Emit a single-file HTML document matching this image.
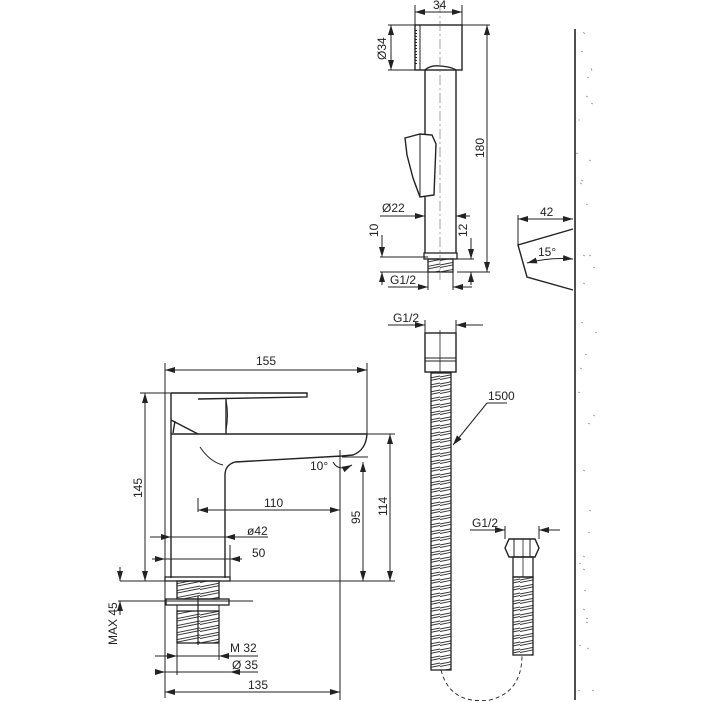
<!DOCTYPE html>
<html><head><meta charset="utf-8"><style>
html,body{margin:0;padding:0;background:#fff}
svg{display:block}
text{font-family:"Liberation Sans",sans-serif;font-size:12px;fill:#222}
</style></head><body>
<svg width="703" height="702" viewBox="0 0 703 702" xmlns="http://www.w3.org/2000/svg">
<defs>
<marker id="a" viewBox="0 0 10 6" refX="10" refY="3" markerWidth="10" markerHeight="6" orient="auto-start-reverse" markerUnits="userSpaceOnUse"><path d="M0,0 L10,3 L0,6 z" fill="#222"/></marker>
<pattern id="sp" patternUnits="userSpaceOnUse" width="40" height="7"><path d="M0,6 L40,-2 M0,8.5 L40,0.5 M0,13 L40,5 M0,15.5 L40,7.5 M0,-1 L40,-9 M0,1.5 L40,-6.5" stroke="#333" stroke-width="0.9"/></pattern>
</defs>
<g stroke="#222" stroke-width="1" fill="none">
<line x1="575" y1="29" x2="575" y2="700" stroke-width="1.6"/>
<g stroke="#999" stroke-width="0.8">
<path d="M583,32l2,2M581,51l2,1M591,68l1,3M587,77l2,1M586,96l2,1M591,103l2,1M578,120l2,0M576,153l2,1M589,160l2,1M581,180l2,1M580,183l2,1M586,204l2,1M583,255l2,1M589,255l2,1M593,267l2,1M583,283l2,1M581,322l2,1M595,332l2,1M585,354l2,1M580,368l2,1M578,392l2,1M593,415l2,1M588,423l2,1M583,470l2,1M589,510l2,1M588,532l2,1M583,556l2,1M579,563l2,1M583,569l2,1M584,590l2,1M583,609l2,1M586,618l2,1M586,622l2,1M579,645l2,1M587,648l2,1M592,690l2,1M578,690l2,1"/>
</g>
<rect x="415" y="25" width="47" height="45" stroke-width="1.4"/>
<line x1="420" y1="25" x2="420" y2="70"/>
<path d="M416,30 v35" stroke-dasharray="1 2" stroke-width="2"/>
<path d="M425,70 Q430,65 440,66 Q452,67 456,70" stroke-width="1.3"/>
<line x1="425" y1="70" x2="425" y2="253" stroke-width="1.4"/>
<line x1="456" y1="70" x2="456" y2="253" stroke-width="1.4"/>
<path d="M405,138 L420,134 L432,135 L436,144 L434,195 L420,197 L413,178 L407,155 Z" fill="#fff" stroke-width="1.4"/>
<line x1="420" y1="134" x2="420" y2="197"/>
<rect x="424" y="253" width="33" height="6" stroke-width="1.3"/>
<rect x="428" y="259" width="25" height="13" fill="url(#sp)" stroke-width="1.3"/>
<line x1="440" y1="3" x2="440" y2="280" stroke="#666" stroke-width="0.6" stroke-dasharray="10 3 2 3"/>
<line x1="415" y1="5" x2="415" y2="25"/><line x1="462" y1="5" x2="462" y2="25"/>
<line x1="415" y1="12" x2="462" y2="12" marker-start="url(#a)" marker-end="url(#a)"/>
<line x1="388" y1="25" x2="415" y2="25"/><line x1="388" y1="70" x2="415" y2="70"/>
<line x1="391" y1="25" x2="391" y2="70" marker-start="url(#a)" marker-end="url(#a)"/>
<line x1="462" y1="25" x2="490" y2="25"/><line x1="457" y1="272" x2="490" y2="272"/>
<line x1="487" y1="25" x2="487" y2="272" marker-start="url(#a)" marker-end="url(#a)"/>
<line x1="380" y1="216" x2="425" y2="216" marker-end="url(#a)"/>
<line x1="470" y1="216" x2="456" y2="216" marker-end="url(#a)"/>
<line x1="380" y1="257" x2="428" y2="257"/><line x1="380" y1="272" x2="428" y2="272"/>
<line x1="382" y1="235" x2="382" y2="257" marker-end="url(#a)"/>
<line x1="382" y1="285" x2="382" y2="272" marker-end="url(#a)"/>
<line x1="457" y1="259" x2="474" y2="259"/>
<line x1="471" y1="238" x2="471" y2="259" marker-end="url(#a)"/>
<line x1="471" y1="285" x2="471" y2="272" marker-end="url(#a)"/>
<line x1="428" y1="272" x2="428" y2="290"/><line x1="453" y1="272" x2="453" y2="290"/>
<line x1="388" y1="287" x2="428" y2="287" marker-end="url(#a)"/>
<line x1="472" y1="287" x2="453" y2="287" marker-end="url(#a)"/>
<path d="M573,229 L518,245 L527,277 L573,290" stroke-width="1.4"/>
<line x1="518" y1="215" x2="518" y2="245"/>
<line x1="518" y1="219" x2="573" y2="219" marker-start="url(#a)" marker-end="url(#a)"/>
<path d="M527,263 Q550,257 573,259" marker-start="url(#a)" marker-end="url(#a)"/>
<path d="M171,393 L307,393 L307,397 L198,399" stroke-width="1.4"/>
<path d="M171,393 L171,578" stroke-width="1.4"/>
<path d="M226,399 L226,434 M198,434 L171,420 M175,421 L173,433" stroke-width="1.4"/>
<path d="M226,400 Q229,415 226,430" />
<path d="M171,434 L367,434 Q366,450 353,455 L342,456 L235,462 Q225,465 225,475 L225,578" stroke-width="1.4"/>
<path d="M200,447 Q210,462 223,465"/>
<rect x="165" y="577" width="65" height="4" stroke-width="1.3"/>
<rect x="177" y="581" width="42" height="18" fill="url(#sp)" stroke-width="1.3"/>
<rect x="166" y="599" width="63" height="6" stroke-width="1.3"/>
<path d="M177,605 L219,605 L219,611 L177,611 Z" stroke-width="1"/>
<rect x="177" y="611" width="42" height="32" fill="url(#sp)" stroke-width="1.3"/>
<line x1="198" y1="596" x2="198" y2="645" stroke-width="1.2"/>
<line x1="198" y1="498" x2="198" y2="512"/>
<line x1="165" y1="363" x2="165" y2="577"/><line x1="367" y1="363" x2="367" y2="434"/>
<line x1="165" y1="370" x2="367" y2="370" marker-start="url(#a)" marker-end="url(#a)"/>
<line x1="140" y1="393" x2="171" y2="393"/>
<line x1="145" y1="393" x2="145" y2="581" marker-start="url(#a)" marker-end="url(#a)"/>
<line x1="367" y1="434" x2="395" y2="434"/>
<line x1="390" y1="434" x2="390" y2="581" marker-start="url(#a)" marker-end="url(#a)"/>
<line x1="342" y1="457" x2="368" y2="457"/>
<line x1="363" y1="462" x2="363" y2="581" marker-start="url(#a)" marker-end="url(#a)"/>
<line x1="120" y1="581" x2="395" y2="581" stroke-width="1.1"/>
<line x1="340" y1="450" x2="340" y2="700"/>
<path d="M333,462 Q338,472 352,465" marker-end="url(#a)"/>
<line x1="198" y1="510" x2="340" y2="510" marker-start="url(#a)" marker-end="url(#a)"/>
<line x1="150" y1="537" x2="171" y2="537" marker-end="url(#a)"/>
<line x1="171" y1="537" x2="225" y2="537"/>
<line x1="236" y1="537" x2="225" y2="537" marker-end="url(#a)"/>
<line x1="236" y1="537" x2="268" y2="537"/>
<line x1="152" y1="559" x2="165" y2="559" marker-end="url(#a)"/>
<line x1="165" y1="559" x2="230" y2="559"/>
<line x1="242" y1="559" x2="230" y2="559" marker-end="url(#a)"/>
<line x1="230" y1="545" x2="230" y2="577"/>
<line x1="118" y1="601" x2="253" y2="601"/>
<line x1="120" y1="567" x2="120" y2="581" marker-end="url(#a)"/>
<line x1="120" y1="615" x2="120" y2="601" marker-end="url(#a)"/>
<line x1="177" y1="643" x2="177" y2="675"/><line x1="219" y1="643" x2="219" y2="660"/>
<line x1="165" y1="581" x2="165" y2="698"/>
<line x1="155" y1="656" x2="177" y2="656" marker-end="url(#a)"/>
<line x1="177" y1="656" x2="219" y2="656"/>
<line x1="232" y1="656" x2="219" y2="656" marker-end="url(#a)"/>
<line x1="232" y1="656" x2="258" y2="656"/>
<line x1="155" y1="672" x2="165" y2="672" marker-end="url(#a)"/>
<line x1="165" y1="672" x2="230" y2="672"/>
<line x1="242" y1="672" x2="230" y2="672" marker-end="url(#a)"/>
<line x1="242" y1="672" x2="258" y2="672"/>
<line x1="165" y1="692" x2="340" y2="692" marker-start="url(#a)" marker-end="url(#a)"/>
<rect x="425" y="333" width="31" height="39" stroke-width="1.4"/>
<line x1="425" y1="358" x2="456" y2="358"/><line x1="425" y1="361" x2="456" y2="361"/>
<line x1="440" y1="330" x2="440" y2="372" stroke-width="0.8"/>
<line x1="425" y1="320" x2="425" y2="333"/><line x1="456" y1="320" x2="456" y2="333"/>
<line x1="388" y1="325" x2="425" y2="325" marker-end="url(#a)"/>
<line x1="483" y1="325" x2="456" y2="325" marker-end="url(#a)"/>
<rect x="431" y="373" width="20" height="297" fill="url(#sp)" stroke-width="1.3"/>
<line x1="507" y1="403" x2="487" y2="403"/>
<line x1="487" y1="403" x2="453" y2="445" marker-end="url(#a)"/>
<path d="M441,670 Q450,705 490,700 Q522,692 522,655" stroke-dasharray="4 3" stroke-width="0.9"/>
<path d="M509,539 L535,539 L539,548 L535,557 L509,557 L505,548 Z" stroke-width="1.4"/>
<line x1="514" y1="539" x2="514" y2="557"/><line x1="530" y1="539" x2="530" y2="557"/>
<rect x="513" y="557" width="20" height="20" stroke-width="1.3"/>
<line x1="523" y1="539" x2="523" y2="577" stroke-width="0.8"/>
<rect x="513" y="577" width="20" height="78" fill="url(#sp)" stroke-width="1.3"/>
<line x1="505" y1="526" x2="505" y2="539"/><line x1="539" y1="526" x2="539" y2="539"/>
<line x1="470" y1="530" x2="505" y2="530" marker-end="url(#a)"/>
<line x1="560" y1="530" x2="539" y2="530" marker-end="url(#a)"/>
</g>
<text x="433" y="9">34</text>
<text transform="translate(386,60) rotate(-90)">Ø34</text>
<text transform="translate(484,158) rotate(-90)">180</text>
<text x="382" y="212">Ø22</text>
<text transform="translate(378,237) rotate(-90)">10</text>
<text transform="translate(467,237) rotate(-90)">12</text>
<text x="390" y="284">G1/2</text>
<text x="540" y="216">42</text>
<text x="538" y="256">15°</text>
<text x="256" y="365">155</text>
<text transform="translate(142,498) rotate(-90)">145</text>
<text transform="translate(387,516) rotate(-90)">114</text>
<text transform="translate(360,524) rotate(-90)">95</text>
<text x="310" y="470">10°</text>
<text x="264" y="507">110</text>
<text x="247" y="535">ø42</text>
<text x="252" y="557">50</text>
<text transform="translate(117,645) rotate(-90)">MAX 45</text>
<text x="230" y="652">M 32</text>
<text x="232" y="669">Ø 35</text>
<text x="248" y="689">135</text>
<text x="393" y="322">G1/2</text>
<text x="488" y="400">1500</text>
<text x="472" y="527">G1/2</text>
</svg>
</body></html>
